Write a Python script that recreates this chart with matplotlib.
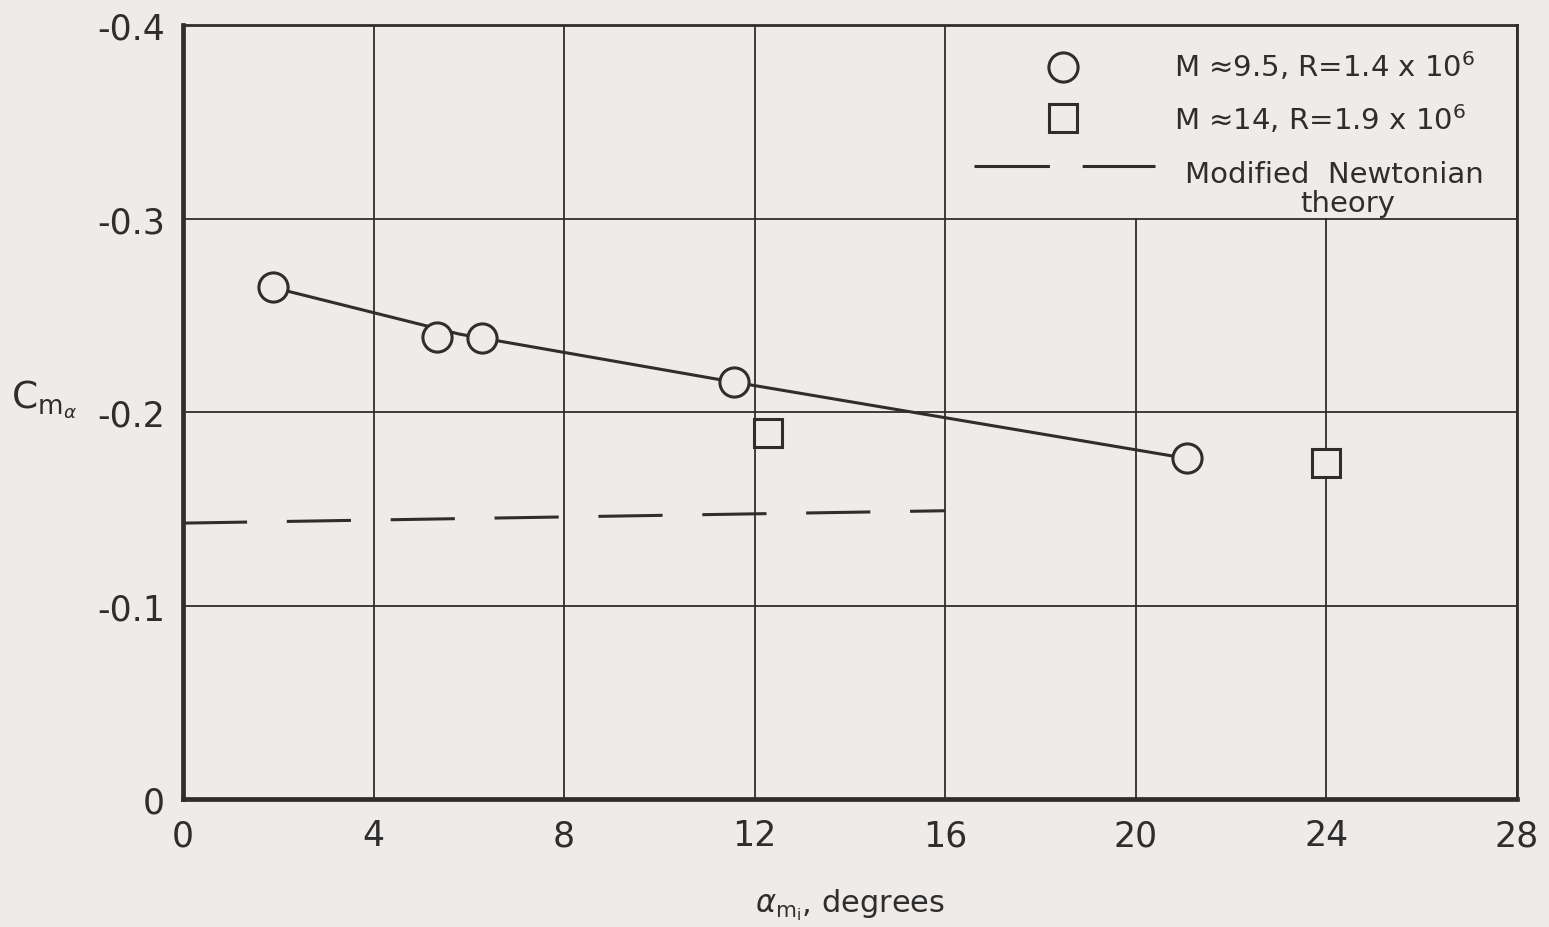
import numpy as np
import matplotlib.pyplot as plt
from matplotlib.patches import Rectangle

# readings
circ_alpha = [1.885, 5.33, 6.28, 11.56, 21.08]
circ_cm = [-0.2644, -0.2388, -0.2382, -0.2155, -0.176]
sq_alpha = [12.28, 23.99]
sq_cm = [-0.189, -0.1738]
fair_alpha = [1.885, 5.8, 11.56, 21.08]
fair_cm = [-0.2644, -0.2403, -0.2155, -0.176]
newt_alpha = [0, 16]
newt_cm = [-0.1426, -0.149]

x_ticks = [0, 4, 8, 12, 16, 20, 24, 28]
y_ticks = [0, -0.1, -0.2, -0.3, -0.4]
y_tick_labels = ['0', '-0.1', '-0.2', '-0.3', '-0.4']

paper = '#efebe8'
ink = '#2e2e2e'

plt.rcParams['font.family'] = ['DejaVu Sans']

fig = plt.figure(figsize=(15.49, 9.28), dpi=100, facecolor=paper)
ax = fig.add_axes([0.1181, 0.1379, 0.8612, 0.834])
ax.set_facecolor(paper)
ax.set_xlim(0, 28)
ax.set_ylim(0, -0.4)

ax.set_axisbelow(True)
ax.grid(True, color=ink, lw=1.3)
ax.set_xticks(x_ticks)
ax.set_yticks(y_ticks, y_tick_labels)
ax.tick_params(length=0, labelsize=25, colors=ink)
ax.tick_params(axis='y', pad=13)
ax.tick_params(axis='x', pad=14)

for side in ['left', 'bottom']:
    ax.spines[side].set_linewidth(3.4)
for side in ['top', 'right']:
    ax.spines[side].set_linewidth(2.0)
for s in ax.spines.values():
    s.set_color(ink)

# data
ax.plot(fair_alpha, fair_cm, color=ink, lw=2.2, zorder=3)
ax.plot(newt_alpha, newt_cm, color=ink, lw=2.2, dashes=(21, 13), zorder=3)
ax.plot(circ_alpha, circ_cm, 'o', ls='none', ms=21, mfc=paper, mec=ink, mew=2.2, zorder=4)
ax.plot(sq_alpha, sq_cm, 's', ls='none', ms=19.5, mfc=paper, mec=ink, mew=2.2, zorder=4)

# legend box (covers grid in upper right)
ax.add_patch(Rectangle((0.585, 0.7508), 0.414, 0.25, transform=ax.transAxes,
                       facecolor=paper, edgecolor='none', zorder=1))
ax.plot([0.660], [0.946], 'o', ms=21, mfc=paper, mec=ink, mew=2.2,
        transform=ax.transAxes, zorder=4)
ax.plot([0.660], [0.880], 's', ms=19.5, mfc=paper, mec=ink, mew=2.2,
        transform=ax.transAxes, zorder=4)
ax.plot([0.593, 0.729], [0.818, 0.818], color=ink, lw=2.2, dashes=(24.7, 10.7),
        transform=ax.transAxes, zorder=4)
ax.text(0.743, 0.9345, 'M \u22489.5, R=1.4 x 10$^6$', fontsize=21, color=ink,
        va='baseline', transform=ax.transAxes, zorder=5)
ax.text(0.743, 0.8656, 'M \u224814, R=1.9 x 10$^6$', fontsize=21, color=ink,
        va='baseline', transform=ax.transAxes, zorder=5)
ax.text(0.751, 0.797, 'Modified  Newtonian', fontsize=21, color=ink,
        va='baseline', transform=ax.transAxes, zorder=5)
ax.text(0.873, 0.760, 'theory', fontsize=21, color=ink, ha='center',
        va='baseline', transform=ax.transAxes, zorder=5)

ax.set_ylabel(r'$\mathregular{C}_{\mathregular{m}_\alpha}$', rotation=0, fontsize=27,
              color=ink, ha='left', va='baseline')
ax.yaxis.set_label_coords(-0.129, 0.506)
ax.set_xlabel(r'$\alpha_{\mathregular{m}_\mathregular{i}}$, degrees', fontsize=22,
              color=ink, va='baseline')
ax.xaxis.set_label_coords(0.5, -0.145)

fig.savefig('out.png', dpi=100, facecolor=paper)
